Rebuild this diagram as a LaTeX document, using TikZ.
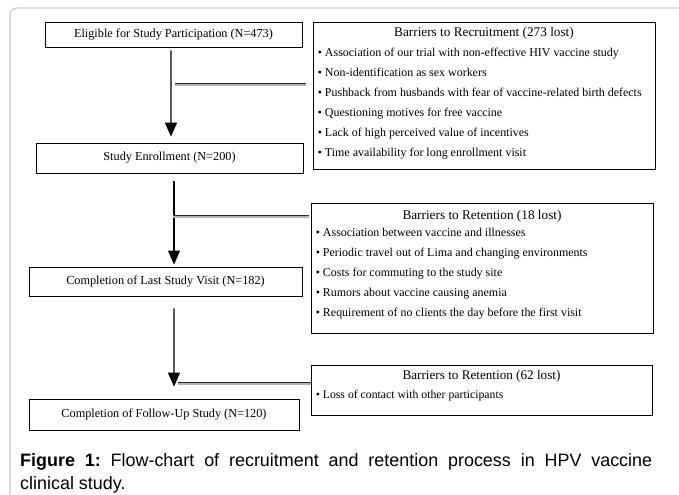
\documentclass[tikz,border=0pt]{standalone}
\usepackage{fontspec}
\setmainfont{Liberation Serif}
\newfontfamily\capfont{Liberation Sans}
\usetikzlibrary{arrows.meta,positioning,calc}
\frenchspacing

\tikzset{
  stage/.style={draw, line width=0.8pt, inner sep=0pt, font=\fontsize{12.3}{14}\selectfont},
  barrier/.style={draw, line width=0.8pt, inner sep=0pt, minimum width=342bp},
  head/.style={anchor=base, inner sep=0pt, font=\fontsize{13.3}{15}\selectfont},
  item/.style={anchor=base west, inner sep=0pt, font=\fontsize{12}{14}\selectfont},
  flow/.style={line width=1.3pt, -{Triangle[width=12pt,length=14pt]}},
  lossline/.style={gray!60, line width=1.3pt,
    preaction={draw=black!85, line width=0.6pt, transform canvas={yshift=1.4pt}}},
}

\begin{document}
\begin{tikzpicture}[x=1bp, y=-1bp]
  \useasboundingbox (0,0) rectangle (679,495);
  % page frame
  \draw[gray!40, line width=1.2pt, rounded corners=7pt] (690,8) -- (10,8) -- (10,505);

  % stages
  \node[stage, minimum width=257bp, minimum height=25bp] (elig) at (173.5,34.5) {Eligible for Study Participation (N=473)};
  \node[stage, minimum width=267bp, minimum height=30bp] (enrol) at (169.5,158) {Study Enrollment (N=200)};
  \node[stage, minimum width=273bp, minimum height=29bp] (last) at (165.5,281.5) {Completion of Last Study Visit (N=182)};
  \node[stage, minimum width=270bp, minimum height=31bp] (follow) at (164,414.5) {Completion of Follow-Up Study (N=120)};
  \draw[line width=1.6pt] (elig.south west) -- ++(113,0);

  % barriers
  \node[barrier, minimum height=147bp] (rec) at (484,95.5) {};
  \node[barrier, minimum height=130bp] (ret) at (482,268) {};
  \node[barrier, minimum width=341bp, minimum height=50bp] (loss) at (481.5,390) {};

  \node[head] (rechead) at ($(rec.north)+(0,14.5)$) {Barriers to Recruitment (273 lost)};
  \foreach \txt [count=\i] in {Association of our trial with non-effective HIV vaccine study,
      Non-identification as sex workers,
      Pushback from husbands with fear of vaccine-related birth defects,
      Questioning motives for free vaccine,
      Lack of high perceived value of incentives,
      Time availability for long enrollment visit}
    \node[item] (rec\i) at ($(rec.north west)+(5,15+20*\i)$) {\textbullet\ \txt};

  \node[head] (rethead) at ($(ret.north)+(0,16.5)$) {Barriers to Retention (18 lost)};
  \foreach \txt [count=\i] in {Association between vaccine and illnesses,
      Periodic travel out of Lima and changing environments,
      Costs for commuting to the study site,
      Rumors about vaccine causing anemia,
      Requirement of no clients the day before the first visit}
    \node[item] (ret\i) at ($(ret.north west)+(5,14+20*\i)$) {\textbullet\ \txt};

  \node[head, font=\fontsize{13.2}{15}\selectfont] (losshead) at ($(loss.north)+(0,14.5)$) {Barriers to Retention (62 lost)};
  \node[item, font=\fontsize{11.8}{14}\selectfont] (loss1) at ($(loss.north west)+(5,34)$) {\textbullet\ Loss of contact with other participants};

  % flow
  \draw[flow] ([shift={(-2.5,3)}]elig.south) -- ([shift={(1.5,-6)}]enrol.north);
  \draw[flow] ([shift={(4.5,8)}]enrol.south) -- ([shift={(8.5,-2)}]last.north);
  \draw[flow] ([shift={(8.5,12)}]last.south) -- ([shift={(10,-12)}]follow.north);

  \coordinate (j1) at (175,85);
  \coordinate (j2) at (173,217);
  \coordinate (j3) at (178,384);
  \draw[lossline] (j1) -- ([xshift=-7bp]j1 -| rec.west);
  \draw[lossline] (j2) -- ([xshift=-2bp]j2 -| ret.west);
  \draw[lossline] (j3) -- (j3 -| loss.west);

  % caption
  \node[anchor=north west, text width=632bp, align=justify, inner sep=0pt,
        font=\capfont\fontsize{18}{23}\selectfont] (cap) at (20,453)
    {\textbf{Figure 1:} Flow-chart of recruitment and retention process in HPV vaccine\linebreak clinical study.};
\end{tikzpicture}
\end{document}
